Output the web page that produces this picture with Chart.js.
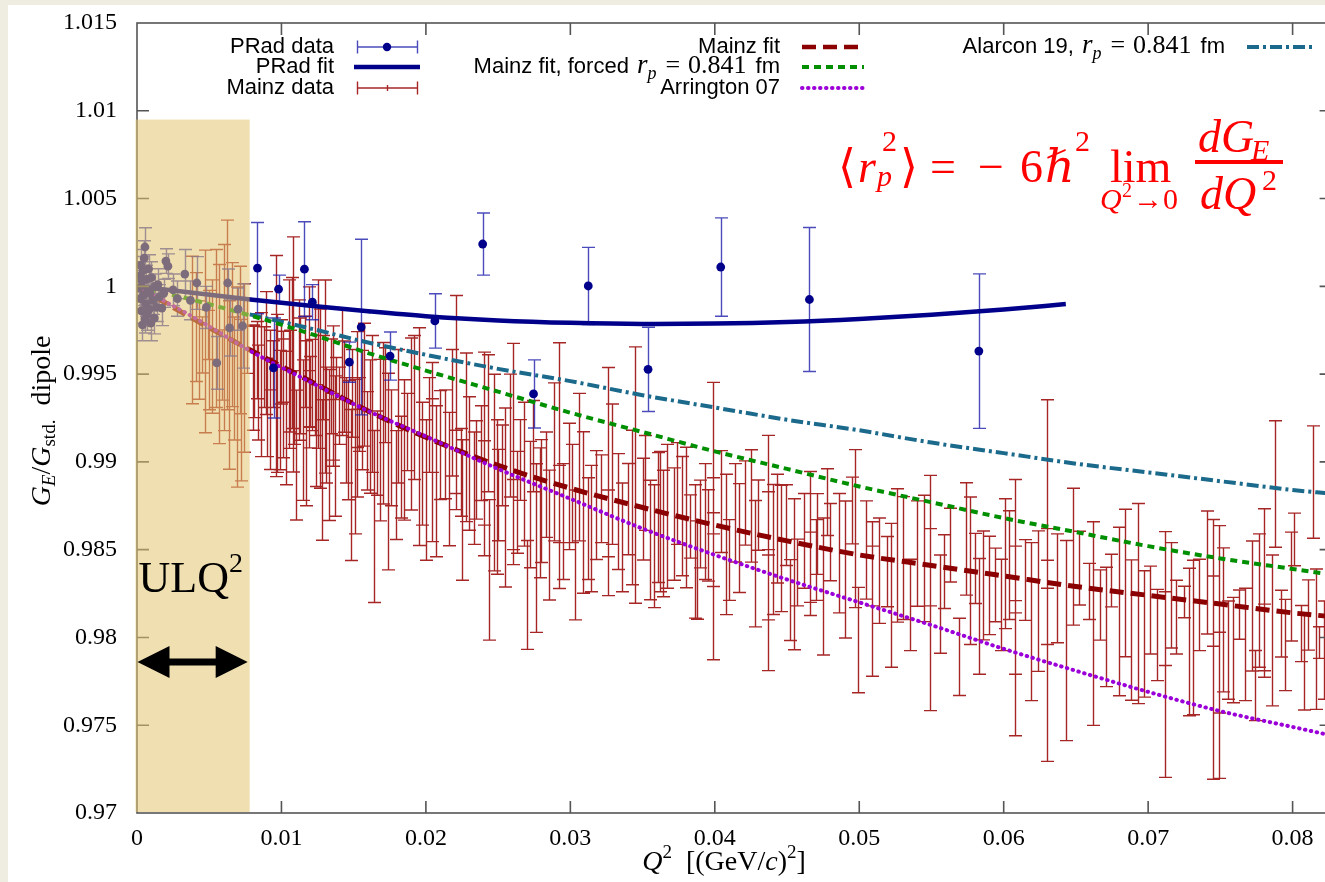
<!DOCTYPE html>
<html><head><meta charset="utf-8">
<script src="https://cdn.jsdelivr.net/npm/chart.js@4/dist/chart.umd.min.js"></script>
<style>
html,body{margin:0;padding:0;background:#efece2;overflow:hidden;width:1325px;height:882px;}
#panel{position:absolute;left:8px;top:5px;width:1317px;height:877px;background:#fff;}
#c{position:absolute;left:0;top:0;}
</style></head><body>
<div id="panel"></div>
<canvas id="c" width="1336" height="882" style="width:1336px;height:882px"></canvas>
<script>
// ---------- data ----------
const xTicksStep = 0.01, yTicksStep = 0.005;
const xRange = [0, 0.0827], yRange = [0.97, 1.015];
const ulqRange = [0, 0.0078], ulqTop = 1.0095, arrowY = 0.9786;

const pradQ2 = [0.00012,0.00018,0.00022,0.00026,0.0003,0.00034,0.00038,0.00042,0.00046,0.0005,0.00055,0.00055,0.0006,0.00065,0.0007,0.00075,0.0008,0.00085,0.0009,0.00095,0.001,0.0011,0.0012,0.00125,0.00135,0.00145,0.00155,0.00172,0.00185,
 0.002,0.00214,0.0025,0.0028,0.00331,0.0037,0.00414,0.0048,0.00552,0.00628,0.00641,0.007,0.00731,
 0.00834,0.0098,0.01159,0.01214,0.01552,0.00945,0.0147,0.01752,0.02062,0.02393,0.02745,0.03124,0.03538,0.04041,0.04655,0.05828];
const pradGE = [0.9999,1.0006,0.9993,1.0012,0.9986,1.0003,0.9978,1.0009,0.9995,1.0016,1.00224,0.99814,0.999,1.0004,0.9984,0.9998,1.001,0.9987,0.9996,0.9979,1.0005,0.9992,0.99819,1.0,0.9988,1.0001,0.9994,0.99876,0.9996,
 1.00144,1.00115,0.9998,0.9993,1.0007,0.9992,1.00019,0.9988,0.99564,1.00019,0.99763,0.9987,0.99774,
 1.00104,0.99984,1.00098,0.9991,0.99768,0.99535,0.99568,0.99603,0.99803,1.00241,0.99387,1.00002,0.99527,1.0011,0.99925,0.99631];
const pradErr = [0.0007,0.0008,0.0006,0.0009,0.0007,0.0006,0.0009,0.0008,0.0006,0.001,0.0011,0.0008,0.0007,0.0008,0.0009,0.0006,0.0008,0.0007,0.0006,0.001,0.0009,0.0008,0.0009,0.0007,0.0008,0.0009,0.0007,0.001,0.0008,
 0.0007,0.0007,0.0009,0.001,0.0014,0.0011,0.0015,0.0012,0.0015,0.0008,0.0016,0.0012,0.0024,
 0.0026,0.0008,0.0027,0.001,0.005,0.00285,0.00114,0.00137,0.00155,0.00177,0.00194,0.0022,0.0024,0.0028,0.0041,0.0044];

const mainzQ2 = [0.0038,0.0041,0.0045,0.0047,0.0052,0.0055,0.0057,0.006,0.0062,0.0066,0.0067,0.0069,0.0071,0.0074,0.0076,0.0043,0.005,0.0064,0.0072,0.0049,0.0059,
 0.0081,0.0088,0.0092,0.0096,0.0101,0.0105,0.0108,0.0112,0.0119,0.0125,0.013,0.0136,0.0138,0.0143,0.0152,0.0161,0.0164,0.0174,0.0084,0.0099,0.0115,0.0121,0.0133,0.0146,0.0156,0.0168,0.0148,0.0128,0.0092,0.011,
 0.019,0.0195,0.0204,0.0216,0.0221,0.023,0.024,0.0247,0.0255,0.026,0.0272,0.0276,0.028,0.0292,0.0299,0.0309,0.0312,0.0326,0.0333,0.034,0.0345,0.035,0.0361,0.0364,0.0185,0.02,0.021,0.0225,0.0235,0.025,0.0265,0.0285,0.0303,0.0318,0.0355,0.0179,0.0244,0.027,
 0.0362,0.0372,0.0377,0.038,0.0383,0.039,0.0395,0.0399,0.0404,0.0417,0.0421,0.0425,0.043,0.0437,0.044,0.0446,0.0449,0.0457,0.0466,0.0471,0.0478,0.048,0.049,0.0495,0.0499,0.0509,0.0519,0.0526,0.053,0.054,0.0549,0.0559,0.0563,0.0569,0.0574,0.058,0.0388,0.041,0.0452,0.0505,0.0535,0.047,
 0.0586,0.059,0.0594,0.0604,0.0608,0.0624,0.063,0.0643,0.0652,0.0659,0.0662,0.0674,0.068,0.0693,0.0701,0.0712,0.0719,0.0725,0.0728,0.0745,0.0749,0.0759,0.0763,0.0772,0.0774,0.078,0.0788,0.0792,0.0801,0.0806,0.0808,0.0814,0.0818,0.0598,0.0615,0.0667,0.0688,0.0706,0.0735,0.0755,0.0795,0.0811,0.0822,
 0.0101,0.0119,0.0136,0.0152,0.0204,0.0221,0.024,0.026,0.0292,0.0326,0.0399,0.0437,0.0466,0.0509,0.0549,0.0608,0.063,0.0712,0.0745,0.0749,0.078,0.0608,0.063,0.0437,0.0399,
 0.008,0.0083,0.0086,0.0089,0.009,0.0094,0.0097,0.01,0.0103,0.0106,0.0107,0.0109,0.0113,0.0116,0.0117,0.012,0.0123,0.0124,0.0127,0.0129,0.0131,0.0134,0.0137,0.014,0.0142,0.0145,0.0149,0.0151,0.0154,0.0157,0.0159,0.0163,0.0166,0.017,0.0172,0.0176,0.0181,0.0183,0.0187,0.0192,0.0197,0.0202,0.0207,0.0213,0.0218,0.0224,0.0228,0.0233,0.0238,0.0243,0.0249,0.0253,0.0258,0.0263,0.0268,0.0274,0.0279,0.0283,0.0289,0.0295,0.0301,0.0306,0.0314,0.0321,0.0329,0.0336,0.0343,0.0352,0.0358,0.0367,0.0374,0.0386,0.0393,0.0408,0.0414,0.0428,0.0443,0.0455,0.0462,0.0475,0.0486,0.0497,0.0514,0.0522,0.0545,0.0556,0.0577,0.0583,0.0601,0.0619,0.0637,0.0648,0.0671,0.0684,0.0697,0.0716,0.0731,0.0741,0.0752,0.0767,0.0777,0.0786,0.0799,0.0816];
const mainzGE = [0.99751,0.99768,0.99666,0.99686,0.99657,0.9976,0.99614,0.99708,0.99837,0.99725,0.99475,0.99426,0.99694,0.99535,0.99714,0.99637,0.99637,0.99438,0.99352,0.99723,0.99552,
 0.99512,0.9954,0.9958,0.99546,0.99384,0.99557,0.99612,0.99523,0.99597,0.99557,0.99486,0.99375,0.99475,0.99429,0.99412,0.99201,0.98689,0.98945,0.99395,0.99295,0.99181,0.99438,0.99096,0.99124,0.99295,0.99124,0.98868,0.98954,0.99267,0.99039,
 0.99216,0.99144,0.99056,0.98902,0.99338,0.98991,0.99045,0.98939,0.98797,0.99045,0.98757,0.98509,0.98777,0.98979,0.9886,0.98712,0.9862,0.98888,0.98717,0.98731,0.98925,0.98731,0.98683,0.98592,0.99068,0.9884,0.99096,0.98726,0.98954,0.98811,0.99011,0.98583,0.9847,0.98754,0.98555,0.98868,0.98385,0.98242,
 0.9866,0.98646,0.98691,0.98683,0.98632,0.98646,0.98581,0.98663,0.98774,0.98566,0.98766,0.98749,0.98697,0.98481,0.98501,0.98507,0.9864,0.9837,0.98535,0.98589,0.98771,0.98543,0.98387,0.98723,0.97985,0.98219,0.98375,0.98467,0.98452,0.98478,0.98253,0.98375,0.98526,0.97889,0.98561,0.98393,0.98384,0.98441,0.98213,0.98498,0.98185,0.98441,
 0.98296,0.98296,0.98299,0.98412,0.9817,0.98207,0.98324,0.97982,0.98395,0.98262,0.98079,0.98324,0.98148,0.98193,0.98156,0.97903,0.98116,0.98202,0.97974,0.97932,0.97917,0.97928,0.9813,0.98179,0.97726,0.98253,0.98874,0.98079,0.98558,0.98022,0.97857,0.98885,0.97971,0.98185,0.98327,0.98185,0.98042,0.98014,0.98185,0.97928,0.97957,0.98128,0.97928,
 0.9952,0.993,0.992,0.9905,0.9915,0.99,0.9888,0.987,0.9876,0.9865,0.985,0.9865,0.984,0.9835,0.984,0.9833,0.982,0.9805,0.9815,0.978,0.98,0.98,0.9845,0.983,0.9875,
 0.9948,0.9958,0.9944,0.9962,0.9931,0.995,0.9939,0.9957,0.9925,0.9946,0.9962,0.9931,0.9949,0.9957,0.9922,0.994,0.9952,0.9915,0.9936,0.9948,0.9921,0.9943,0.9909,0.9932,0.9951,0.9918,0.9939,0.9903,0.9927,0.9944,0.9912,0.9933,0.9905,0.9922,0.9938,0.9908,0.9926,0.9897,0.9917,0.9931,0.9899,0.9921,0.9889,0.991,0.9928,0.9894,0.9914,0.9885,0.9905,0.9922,0.988,0.9898,0.9915,0.9877,0.9893,0.9909,0.9871,0.9887,0.99,0.9866,0.9882,0.9897,0.9862,0.9879,0.9893,0.9857,0.9874,0.9888,0.9852,0.9869,0.9882,0.9849,0.9866,0.9853,0.9871,0.9842,0.9862,0.9836,0.9855,0.9829,0.9848,0.9862,0.9838,0.9824,0.9845,0.9819,0.9838,0.9812,0.9842,0.9809,0.9828,0.9846,0.9806,0.9831,0.9802,0.9824,0.98,0.9837,0.981,0.9796,0.9821,0.9804,0.9829,0.9799];
const mainzErr = [0.0042,0.0031,0.0016,0.0052,0.0038,0.0045,0.0051,0.0053,0.0054,0.0041,0.0035,0.0057,0.0042,0.0048,0.0021,0.0028,0.0034,0.0048,0.0046,0.0014,0.002,
 0.0026,0.0023,0.0017,0.0063,0.0036,0.0048,0.0067,0.004,0.004,0.0048,0.0055,0.004,0.0012,0.0026,0.0033,0.0038,0.0049,0.0056,0.0027,0.0034,0.004,0.0026,0.0043,0.0034,0.0034,0.0046,0.0043,0.004,0.0031,0.0037,
 0.0049,0.0062,0.0051,0.0038,0.0061,0.0038,0.0058,0.0056,0.0051,0.0063,0.0036,0.0048,0.0035,0.007,0.0036,0.0046,0.0029,0.0065,0.0033,0.0026,0.0073,0.0029,0.0037,0.0036,0.004,0.004,0.0031,0.004,0.0028,0.0026,0.0023,0.0037,0.0037,0.0031,0.0034,0.0031,0.004,0.0031,
 0.004,0.0032,0.0034,0.004,0.0018,0.0025,0.0026,0.0079,0.0029,0.0031,0.0024,0.0032,0.002,0.0067,0.0037,0.0036,0.0023,0.0019,0.0041,0.0023,0.0019,0.0022,0.0039,0.0019,0.003,0.0044,0.002,0.0038,0.0035,0.003,0.0067,0.0021,0.0021,0.0022,0.0032,0.002,0.0028,0.0023,0.0023,0.0028,0.0026,0.0023,
 0.0031,0.0028,0.0021,0.0031,0.0073,0.004,0.0103,0.0057,0.0021,0.0016,0.0058,0.0015,0.0048,0.0057,0.0025,0.007,0.0021,0.0009,0.0042,0.0074,0.0072,0.003,0.0014,0.0037,0.002,0.0048,0.0036,0.0019,0.0015,0.0016,0.0027,0.0032,0.0009,0.0026,0.0023,0.002,0.004,0.0026,0.0026,0.0028,0.0026,0.002,0.0028,
 0.0018,0.0022,0.0019,0.0025,0.0021,0.0018,0.0024,0.002,0.0022,0.0019,0.0021,0.0018,0.002,0.0017,0.0022,0.0019,0.0024,0.0021,0.002,0.0023,0.0019,0.0021,0.0017,0.002,0.0016,
 0.003,0.0022,0.0041,0.0035,0.0028,0.0019,0.0045,0.0024,0.0038,0.0029,0.0043,0.0021,0.0033,0.0026,0.0047,0.002,0.0037,0.0029,0.0051,0.0024,0.0033,0.0027,0.004,0.0022,0.0036,0.003,0.0025,0.0044,0.0021,0.0035,0.0028,0.0039,0.0024,0.0046,0.0027,0.0033,0.0038,0.0029,0.0022,0.0041,0.0035,0.0027,0.0043,0.0031,0.0036,0.0025,0.0048,0.0032,0.0027,0.0039,0.0044,0.0023,0.0035,0.0029,0.0041,0.0026,0.0037,0.003,0.0045,0.0033,0.0028,0.0042,0.0036,0.0025,0.004,0.0031,0.0044,0.0027,0.0035,0.0041,0.0029,0.0038,0.0033,0.004,0.0028,0.0036,0.0031,0.0043,0.0027,0.0039,0.0034,0.0045,0.003,0.0041,0.0036,0.0028,0.0042,0.0033,0.0037,0.0045,0.0031,0.0039,0.0034,0.0042,0.0036,0.003,0.0044,0.0035,0.0041,0.0032,0.0038,0.0043,0.0031,0.004];

const fitQ2 = [0,0.004,0.008,0.012,0.016,0.02,0.025,0.03,0.035,0.04,0.045,0.05,0.055,0.06,0.065,0.07,0.075,0.08,0.0825];
const mainzFit = [1.0,0.9981,0.9963,0.9946,0.9929,0.9914,0.9898,0.9885,0.9874,0.9864,0.9855,0.9847,0.9841,0.9835,0.9829,0.9824,0.9819,0.9814,0.9812];
const mainzForced = [1.0,0.9992,0.9983,0.9973,0.9962,0.9952,0.994,0.9928,0.9917,0.9906,0.9896,0.9886,0.9877,0.9868,0.986,0.9852,0.9845,0.9839,0.9836];
const arrington07 = [1.0,0.9982,0.99625,0.99455,0.9929,0.99145,0.9896,0.9879,0.9862,0.9847,0.9833,0.982,0.9807,0.97935,0.9781,0.9769,0.9758,0.9749,0.97445];
const alarconQ2 = [0.0078,0.012,0.016,0.02,0.025,0.03,0.035,0.04,0.045,0.05,0.055,0.06,0.065,0.07,0.075,0.08,0.0825];
const alarcon19 = [0.9984,0.9976,0.9968,0.9961,0.9953,0.9946,0.9938,0.9931,0.9924,0.9918,0.9911,0.9905,0.9899,0.9894,0.9889,0.9884,0.9882];
const pradFitQ2 = [0,0.004,0.008,0.012,0.016,0.02,0.025,0.03,0.035,0.04,0.045,0.05,0.055,0.06,0.0643];
const pradFit = [1.0,0.99962,0.99924,0.9989,0.99858,0.9983,0.99806,0.99792,0.99786,0.99788,0.99797,0.99814,0.99838,0.99868,0.99899];

// ---------- styles ----------
const SERIF = '"Liberation Serif","DejaVu Serif",serif';
const SANS = '"Liberation Sans","DejaVu Sans",sans-serif';
const C_PRAD = '#00008b', C_PRAD_BAR = 'rgba(30,30,170,0.8)';
const C_MAINZ = 'rgba(150,0,0,0.85)';
const C_MFIT = '#8b0000', C_GREEN = '#008f00', C_PURPLE = '#9b00d8', C_TEAL = '#1b6a8c';

const pts = (xs, ys) => xs.map((v, i) => ({x: v, y: ys[i]}));

function drawBars(ctx, xs, ys, qs, vs, es, color, cap, lw) {
  ctx.strokeStyle = color; ctx.lineWidth = lw;
  ctx.beginPath();
  for (let i = 0; i < qs.length; i++) {
    const px = Math.round(xs.getPixelForValue(qs[i])) + 0.5;
    const y1 = ys.getPixelForValue(vs[i] + es[i]);
    const y2 = ys.getPixelForValue(vs[i] - es[i]);
    ctx.moveTo(px, y1); ctx.lineTo(px, y2);
    ctx.moveTo(px - cap, y1); ctx.lineTo(px + cap, y1);
    ctx.moveTo(px - cap, y2); ctx.lineTo(px + cap, y2);
  }
  ctx.stroke();
}

const errorBars = {
  id: 'errorBars',
  beforeDatasetsDraw(chart) {
    const {ctx, chartArea: a, scales: {x, y}} = chart;
    ctx.save();
    ctx.beginPath(); ctx.rect(a.left, a.top, a.right - a.left, a.bottom - a.top); ctx.clip();
    drawBars(ctx, x, y, mainzQ2, mainzGE, mainzErr, C_MAINZ, 6.5, 1.4);
    drawBars(ctx, x, y, pradQ2, pradGE, pradErr, C_PRAD_BAR, 6.5, 1.4);
    ctx.restore();
  }
};

function runsWidth(ctx, runs) {
  let w = 0;
  for (const r of runs) { ctx.font = r.f; w += ctx.measureText(r.t).width + (r.dx || 0); }
  return w;
}
function drawRuns(ctx, runs, x, base, align) {
  const w = runsWidth(ctx, runs);
  let cx = align === 'right' ? x - w : align === 'center' ? x - w / 2 : x;
  ctx.textBaseline = 'alphabetic'; ctx.textAlign = 'left';
  for (const r of runs) {
    ctx.font = r.f;
    ctx.fillText(r.t, cx + (r.dx || 0), base + (r.dy || 0));
    cx += ctx.measureText(r.t).width + (r.dx || 0);
  }
}

const decor = {
  id: 'decor',
  afterDatasetsDraw(chart) {
    const {ctx, chartArea: a, scales: {x, y}} = chart;
    ctx.save();
    // frame + inward ticks
    ctx.strokeStyle = '#555'; ctx.lineWidth = 1.6;
    ctx.strokeRect(a.left, a.top, a.right - a.left, a.bottom - a.top);
    ctx.beginPath();
    x.ticks.forEach(t => { const p = x.getPixelForValue(t.value); if (p <= a.left + 1) return;
      ctx.moveTo(p, a.bottom); ctx.lineTo(p, a.bottom - 12); ctx.moveTo(p, a.top); ctx.lineTo(p, a.top + 12); });
    y.ticks.forEach(t => { const p = y.getPixelForValue(t.value); if (p >= a.bottom - 1 || p <= a.top + 1) return;
      ctx.moveTo(a.left, p); ctx.lineTo(a.left + 12, p); ctx.moveTo(a.right, p); ctx.lineTo(a.right - 12, p); });
    ctx.stroke();

    // ULQ2 shaded band
    const sx0 = x.getPixelForValue(ulqRange[0]) - 1.5, sx1 = x.getPixelForValue(ulqRange[1]);
    const sy0 = y.getPixelForValue(ulqTop);
    ctx.fillStyle = 'rgba(228,197,111,0.55)';
    ctx.fillRect(sx0, sy0, sx1 - sx0, a.bottom - 1 - sy0);

    // ULQ2 text
    ctx.fillStyle = '#000';
    drawRuns(ctx, [{t: 'ULQ', f: `44px ${SERIF}`}, {t: '2', f: `28px ${SERIF}`, dy: -20}], sx0 + 3, 592, 'left');
    // double arrow
    const ay = y.getPixelForValue(arrowY), ax0 = sx0 + 2, ax1 = sx1 - 2;
    ctx.beginPath();
    ctx.moveTo(ax0, ay); ctx.lineTo(ax0 + 32, ay - 16); ctx.lineTo(ax0 + 32, ay - 3.5);
    ctx.lineTo(ax1 - 32, ay - 3.5); ctx.lineTo(ax1 - 32, ay - 16); ctx.lineTo(ax1, ay);
    ctx.lineTo(ax1 - 32, ay + 16); ctx.lineTo(ax1 - 32, ay + 3.5); ctx.lineTo(ax0 + 32, ay + 3.5);
    ctx.lineTo(ax0 + 32, ay + 16); ctx.closePath(); ctx.fill();

    // legend
    const LS = `22px ${SANS}`, LM = `26px ${SERIF}`, LMI = `italic 27px ${SERIF}`, LSUB = `italic 18px ${SERIF}`;
    const rows = [53, 73, 94];
    ctx.fillStyle = '#000';
    drawRuns(ctx, [{t: 'PRad data', f: LS}], 334, rows[0], 'right');
    drawRuns(ctx, [{t: 'PRad fit', f: LS}], 334, rows[1], 'right');
    drawRuns(ctx, [{t: 'Mainz data', f: LS}], 334, rows[2], 'right');
    drawRuns(ctx, [{t: 'Mainz fit', f: LS}], 780, rows[0], 'right');
    const rp = [{t: 'r', f: LMI, dx: 8}, {t: 'p', f: LSUB, dy: 6}, {t: '=', f: LM, dx: 9}, {t: '0.841', f: LM, dx: 8}, {t: 'fm', f: LS, dx: 9}];
    drawRuns(ctx, [{t: 'Mainz fit, forced', f: LS}].concat(rp), 780, rows[1], 'right');
    drawRuns(ctx, [{t: 'Arrington 07', f: LS}], 780, rows[2], 'right');
    drawRuns(ctx, [{t: 'Alarcon 19,', f: LS}].concat(rp), 1225, rows[0], 'right');
    const ly = [47, 67, 88];
    // PRad data sample
    ctx.strokeStyle = C_PRAD_BAR; ctx.lineWidth = 1.4; ctx.beginPath();
    ctx.moveTo(357, ly[0]); ctx.lineTo(417, ly[0]); ctx.moveTo(357.5, ly[0] - 6.5); ctx.lineTo(357.5, ly[0] + 6.5);
    ctx.moveTo(417.5, ly[0] - 6.5); ctx.lineTo(417.5, ly[0] + 6.5); ctx.stroke();
    ctx.fillStyle = C_PRAD; ctx.beginPath(); ctx.arc(387, ly[0], 4.2, 0, 2 * Math.PI); ctx.fill();
    // PRad fit sample
    ctx.strokeStyle = C_PRAD; ctx.lineWidth = 4.5; ctx.beginPath(); ctx.moveTo(354, ly[1]); ctx.lineTo(420, ly[1]); ctx.stroke();
    // Mainz data sample
    ctx.strokeStyle = C_MAINZ; ctx.lineWidth = 1.4; ctx.beginPath();
    ctx.moveTo(357, ly[2]); ctx.lineTo(417, ly[2]); ctx.moveTo(357.5, ly[2] - 6.5); ctx.lineTo(357.5, ly[2] + 6.5);
    ctx.moveTo(417.5, ly[2] - 6.5); ctx.lineTo(417.5, ly[2] + 6.5); ctx.moveTo(387.5, ly[2] - 3); ctx.lineTo(387.5, ly[2] + 3); ctx.stroke();
    // column 2/3 samples
    const sample = (x0, x1, yy, col, w, dash, cap) => { ctx.strokeStyle = col; ctx.lineWidth = w; ctx.setLineDash(dash); ctx.lineCap = cap;
      ctx.beginPath(); ctx.moveTo(x0, yy); ctx.lineTo(x1, yy); ctx.stroke(); ctx.setLineDash([]); ctx.lineCap = 'butt'; };
    sample(802, 864, ly[0], C_MFIT, 4.5, [14, 7], 'butt');
    sample(802, 864, ly[1], C_GREEN, 4, [7, 5], 'butt');
    sample(802, 864, ly[2], C_PURPLE, 4, [0.5, 5.5], 'round');
    sample(1247, 1313, ly[0], C_TEAL, 4, [12, 4, 3, 4], 'butt');

    // formula
    ctx.fillStyle = '#ff0000';
    const F = `46px ${SERIF}`, FI = `italic 46px ${SERIF}`, FS = `30px ${SERIF}`, FSI = `italic 30px ${SERIF}`;
    const put = (t, f, px, py) => { ctx.font = f; ctx.textAlign = 'left'; ctx.textBaseline = 'alphabetic'; ctx.fillText(t, px, py); };
    put('\u27E8', F, 838, 182);
    put('r', FI, 858, 182);
    put('2', FS, 882, 151);
    put('p', FSI, 877, 186);
    put('\u27E9', F, 900, 182);
    put('=', F, 930, 182);
    put('\u2212', F, 978, 182);
    put('6', F, 1020, 182);
    put('\u210F', FI, 1045, 182);
    put('2', FS, 1075, 151);
    put('lim', F, 1110, 182);
    put('Q', FSI, 1100, 209);
    put('2', `20px ${SERIF}`, 1122, 197);
    put('\u21920', FS, 1133, 209);
    ctx.fillRect(1195, 160, 88, 4);
    put('dG', FI, 1198, 152);
    put('E', FSI, 1251, 160);
    put('dQ', FI, 1200, 209);
    put('2', FS, 1262, 190);

    // axis titles
    ctx.fillStyle = '#000';
    drawRuns(ctx, [{t: 'Q', f: `italic 28px ${SERIF}`}, {t: '2', f: `19px ${SERIF}`, dy: -12}, {t: '  [(GeV/', f: `28px ${SERIF}`}, {t: 'c', f: `italic 28px ${SERIF}`}, {t: ')', f: `28px ${SERIF}`}, {t: '2', f: `19px ${SERIF}`, dy: -12}, {t: ']', f: `28px ${SERIF}`}], 724, 870, 'center');
    ctx.save();
    ctx.translate(50, 421); ctx.rotate(-Math.PI / 2);
    drawRuns(ctx, [{t: 'G', f: `italic 28px ${SERIF}`}, {t: 'E', f: `italic 19px ${SERIF}`, dy: 5}, {t: '/', f: `28px ${SERIF}`}, {t: 'G', f: `italic 28px ${SERIF}`}, {t: 'std.', f: `19px ${SERIF}`, dy: 5}, {t: '  dipole', f: `28px ${SERIF}`}], 0, 0, 'center');
    ctx.restore();
    ctx.restore();
  }
};

const fmt = v => String(Number(Number(v).toFixed(4)));

new Chart(document.getElementById('c'), {
  type: 'scatter',
  data: {
    datasets: [
      {label: 'PRad data', data: pts(pradQ2, pradGE), pointRadius: 4.4, pointBackgroundColor: C_PRAD, pointBorderWidth: 0, showLine: false, order: 0},
      {label: 'PRad fit', data: pts(pradFitQ2, pradFit), showLine: true, borderColor: C_PRAD, borderWidth: 4.5, pointRadius: 0, cubicInterpolationMode: 'monotone', order: 1},
      {label: 'Arrington 07', data: pts(fitQ2, arrington07), showLine: true, borderColor: C_PURPLE, borderWidth: 4, borderDash: [0.5, 5.5], borderCapStyle: 'round', pointRadius: 0, cubicInterpolationMode: 'monotone', order: 2},
      {label: 'Mainz fit', data: pts(fitQ2, mainzFit), showLine: true, borderColor: C_MFIT, borderWidth: 5, borderDash: [14, 7], pointRadius: 0, cubicInterpolationMode: 'monotone', order: 3},
      {label: 'Mainz fit, forced', data: pts(fitQ2, mainzForced), showLine: true, borderColor: C_GREEN, borderWidth: 4, borderDash: [7, 5], pointRadius: 0, cubicInterpolationMode: 'monotone', order: 4},
      {label: 'Alarcon 19', data: pts(alarconQ2, alarcon19), showLine: true, borderColor: C_TEAL, borderWidth: 4, borderDash: [12, 4, 3, 4], pointRadius: 0, cubicInterpolationMode: 'monotone', order: 5},
      {label: 'Mainz data', data: pts(mainzQ2, mainzGE), pointRadius: 0, showLine: false, order: 10}
    ]
  },
  options: {
    responsive: false, animation: false,
    layout: {padding: {top: 23, left: 0, right: 0, bottom: 0}},
    plugins: {legend: {display: false}, tooltip: {enabled: false}},
    scales: {
      x: {type: 'linear', min: xRange[0], max: xRange[1],
          grid: {display: false, drawTicks: false}, border: {display: false},
          ticks: {stepSize: xTicksStep, includeBounds: false, padding: 11, color: '#000', font: {family: SERIF, size: 24}, callback: fmt, maxRotation: 0},
          afterFit: s => { s.height = 69; s.paddingLeft = 0; s.paddingRight = 0; }},
      y: {type: 'linear', min: yRange[0], max: yRange[1],
          grid: {display: false, drawTicks: false}, border: {display: false},
          ticks: {stepSize: yTicksStep, includeBounds: false, padding: 20, color: '#000', font: {family: SERIF, size: 24}, callback: fmt},
          afterFit: s => { s.width = 137; s.paddingTop = 0; s.paddingBottom = 0; }}
    }
  },
  plugins: [errorBars, decor]
});
</script>
</body></html>
